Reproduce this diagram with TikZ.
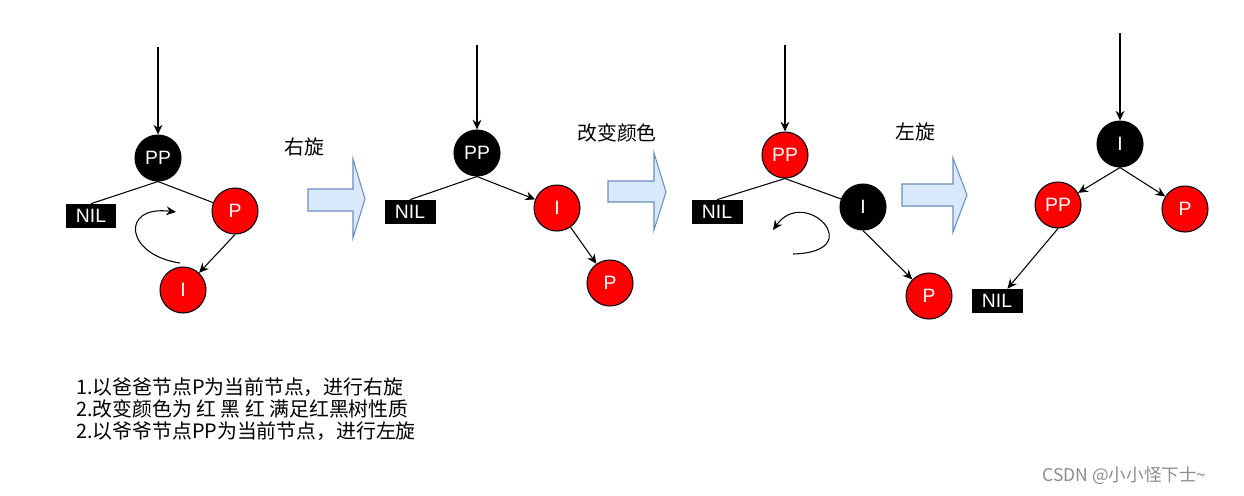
\documentclass[tikz,border=0pt]{standalone}
\usepackage{fontspec}
\setmainfont{Liberation Sans}
\newfontfamily\cjk{Noto Sans CJK SC}
\usetikzlibrary{arrows.meta}

\definecolor{rbred}{HTML}{FF0000}
\definecolor{turnfill}{HTML}{DAE8FC}
\definecolor{turnline}{HTML}{6C8EBF}

\tikzset{
  redkey/.style={circle,draw=black,line width=0.6pt,fill=rbred,text=white,
    minimum size=0.92cm,inner sep=0pt,font=\fontsize{11}{13}\selectfont},
  blackkey/.style={redkey,fill=black},
  nilkey/.style={rectangle,fill=black,text=white,minimum width=1.02cm,
    minimum height=0.48cm,inner sep=0pt,font=\fontsize{11}{13}\selectfont},
  link/.style={line width=0.6pt},
  pointer/.style={link,-{Stealth[length=5.5pt,width=5pt]}},
  turn/.style={fill=turnfill,draw=turnline,line width=0.6pt},
  hint/.style={inner sep=0pt,font=\cjk\fontsize{11.3}{13}\selectfont},
}

\begin{document}
\begin{tikzpicture}[x=0.02cm,y=-0.02cm]
    \useasboundingbox (0,0) rectangle (1244,495);

    % tree 1: P red, I its red child
    \node[blackkey] (pp1) at (158,158) {PP};
    \node[nilkey] (nil1) at (91,216) {NIL};
    \node[redkey] (p1) at (235,211) {P};
    \node[redkey] (i1) at (183,290) {I};
    \coordinate (top1) at (158,47);
    \draw[pointer] (top1) -- (pp1);
    \draw[link] (pp1.south) -- (nil1.north);
    \draw[link] (pp1.south) -- (p1);
    \draw[pointer] (p1.south) -- (i1);
    % turning sign
    \draw[pointer] (180,263) .. controls (125,255) and (120,205) .. (176,212);

    % step arrow 1
    \draw[turn] (308,189) -- (353,189) -- (353,159) -- (365,199) -- (353,238) -- (353,211) -- (308,211) -- cycle;
    \node[hint] (rot1) at (304,147) {右旋};

    % tree 2: after right rotation
    \node[blackkey] (pp2) at (477,153) {PP};
    \node[nilkey] (nil2) at (410,212) {NIL};
    \node[redkey] (i2) at (557,208) {I};
    \node[redkey] (p2) at (610,283) {P};
    \coordinate (top2) at (477,45);
    \draw[pointer] (top2) -- (pp2);
    \draw[link] (pp2.south) -- (nil2.north);
    \draw[pointer] (pp2.south) -- (i2);
    \draw[pointer] (i2) -- (p2);

    % step arrow 2
    \draw[turn] (608,181) -- (654,181) -- (654,153) -- (666,192) -- (654,230) -- (654,202) -- (608,202) -- cycle;
    \node[hint] (recolor) at (617,133) {改变颜色};

    % tree 3: colours changed
    \node[redkey] (pp3) at (785,155) {PP};
    \node[nilkey] (nil3) at (717,212) {NIL};
    \node[blackkey] (i3) at (863,207) {I};
    \node[redkey] (p3) at (929,296) {P};
    \coordinate (top3) at (785,45);
    \draw[pointer] (top3) -- (pp3);
    \draw[link] (pp3.south) -- (nil3.north);
    \draw[link] (pp3.south) -- (i3);
    \draw[pointer] (i3.south) -- (p3);
    % turning sign
    \draw[pointer] (793,254) .. controls (870,252) and (805,185) .. (773,230);

    % step arrow 3
    \draw[turn] (902,184) -- (953,184) -- (953,158) -- (967,195) -- (953,232) -- (953,206) -- (902,206) -- cycle;
    \node[hint] (rot2) at (915,132) {左旋};

    % tree 4: after left rotation
    \node[blackkey] (i4) at (1120,144) {I};
    \node[redkey] (pp4) at (1058,205) {PP};
    \node[redkey] (p4) at (1185,209) {P};
    \node[nilkey] (nil4) at (997,301) {NIL};
    \coordinate (top4) at (1120,33);
    \draw[pointer] (top4) -- (i4);
    \draw[pointer] (i4.south) -- (pp4);
    \draw[pointer] (i4.south) -- (p4);
    \draw[pointer] (pp4.south) -- (nil4);

    % notes
    \node[hint,anchor=west] (step1) at (76,387) {1.以爸爸节点P为当前节点，进行右旋};
    \node[hint,anchor=west] (step2) at (76,409) {2.改变颜色为 红 黑 红 满足红黑树性质};
    \node[hint,anchor=west] (step3) at (76,431) {2.以爷爷节点PP为当前节点，进行左旋};

    \node[hint,anchor=west,text=black!45,font=\cjk\fontsize{10}{12}\selectfont] (mark) at (1042,476) {CSDN @小小怪下士\textasciitilde};
\end{tikzpicture}
\end{document}
